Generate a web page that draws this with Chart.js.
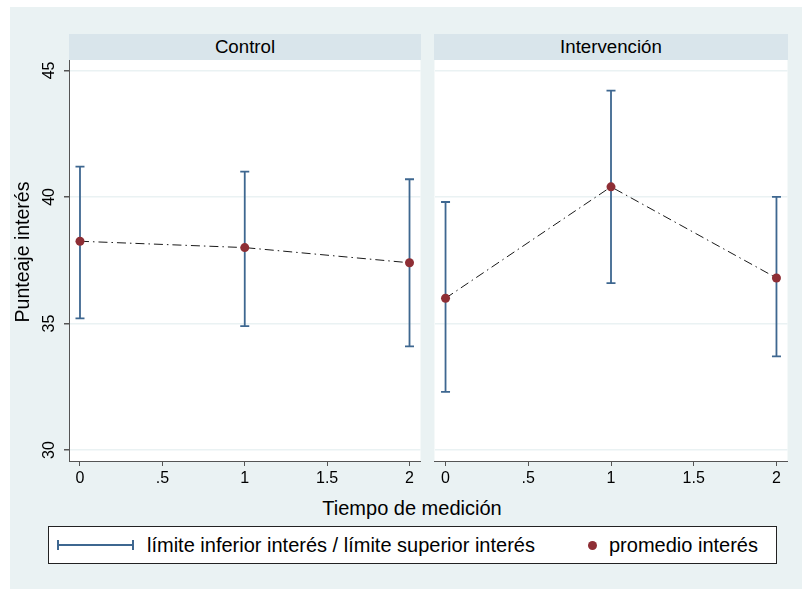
<!DOCTYPE html>
<html>
<head>
<meta charset="utf-8">
<script src="https://cdn.jsdelivr.net/npm/chart.js@4"></script>
<style>
body { margin: 0; background: #fff; font-family: "Liberation Sans", Arial, sans-serif; }
#fondo { position: absolute; left: 10px; top: 7px; width: 792px; height: 582px; background: #EAF2F3; }
.tira { position: absolute; top: 34px; height: 26px; background: #D9E5EB; text-align: center; font-size: 18.7px; line-height: 26px; color: #000; }
canvas { position: absolute; }
#tituloX { position: absolute; left: 262px; width: 300px; top: 496px; text-align: center; font-size: 20px; line-height: 24px; }
#tituloY { position: absolute; left: -128px; top: 240px; width: 300px; text-align: center; font-size: 19.5px; line-height: 24px; transform: rotate(-90deg); }
#leyenda { position: absolute; left: 48px; top: 526px; width: 727px; height: 36px; background: #fff; border: 1px solid #222; }
#leyenda span { position: absolute; font-size: 20px; line-height: 24px; top: 6px; }
.barra { position: absolute; left: 8px; top: 17px; width: 77px; height: 2px; background: #3E6790; }
.barra::before, .barra::after { content: ""; position: absolute; top: -4px; width: 2px; height: 10px; background: #3E6790; }
.barra::before { left: 0; }
.barra::after { right: 0; }
.punto { position: absolute; left: 539px; top: 14px; width: 9px; height: 9px; border-radius: 50%; background: #8E2E35; }
</style>
</head>
<body>
<div id="fondo"></div>
<div class="tira" style="left:69px;width:352px;">Control</div>
<div class="tira" style="left:434px;width:354px;">Intervención</div>
<canvas id="graficoControl" width="425" height="430" style="left:0;top:55px;"></canvas>
<canvas id="graficoInterv" width="362" height="430" style="left:430px;top:55px;"></canvas>
<div id="tituloY">Punteaje interés</div>
<div id="tituloX">Tiempo de medición</div>
<div id="leyenda">
  <div class="barra"></div>
  <span style="left:98px;">límite inferior interés / límite superior interés</span>
  <div class="punto"></div>
  <span style="left:560px;">promedio interés</span>
</div>
<script>
// datos
const tiempos = [0, 1, 2];
const controlMedia = [38.25, 38.0, 37.4];
const controlInf = [35.2, 34.9, 34.1];
const controlSup = [41.2, 41.0, 40.7];
const intervMedia = [36.0, 40.4, 36.8];
const intervInf = [32.3, 36.6, 33.7];
const intervSup = [39.8, 44.2, 40.0];
const ticksY = [30, 35, 40, 45];
const ticksX = [0, 0.5, 1, 1.5, 2];
const etiquetasX = ['0', '.5', '1', '1.5', '2'];

const colorBarra = '#3E6790';
const colorPunto = '#8E2E35';
const colorEje = '#555';

// fondo blanco del área del gráfico
const fondoBlanco = {
    id: 'fondoBlanco',
    beforeDraw(chart) {
        const a = chart.chartArea;
        chart.ctx.save();
        chart.ctx.fillStyle = '#fff';
        chart.ctx.fillRect(a.left, a.top, a.right - a.left, a.bottom - a.top);
        chart.ctx.restore();
    }
};

// barras de error (límite inferior / superior)
const barrasError = {
    id: 'barrasError',
    beforeDatasetsDraw(chart, args, opts) {
        const ctx = chart.ctx;
        const x = chart.scales.x, y = chart.scales.y;
        ctx.save();
        ctx.strokeStyle = colorBarra;
        ctx.lineWidth = 1.8;
        opts.inf.forEach((lo, i) => {
            const px = x.getPixelForValue(tiempos[i]);
            const y1 = y.getPixelForValue(lo);
            const y2 = y.getPixelForValue(opts.sup[i]);
            ctx.beginPath();
            ctx.moveTo(px, y1); ctx.lineTo(px, y2);
            ctx.moveTo(px - 4.5, y1); ctx.lineTo(px + 4.5, y1);
            ctx.moveTo(px - 4.5, y2); ctx.lineTo(px + 4.5, y2);
            ctx.stroke();
        });
        ctx.restore();
    }
};

function crearGrafico(id, medias, inf, sup, conEjeY) {
    return new Chart(document.getElementById(id), {
        type: 'line',
        data: {
            datasets: [{
                label: 'promedio interés',
                data: tiempos.map((t, i) => ({ x: t, y: medias[i] })),
                borderColor: '#000',
                borderWidth: 0.9,
                borderDash: [9, 4, 1.5, 4],
                pointRadius: 4.5,
                pointBackgroundColor: colorPunto,
                pointBorderWidth: 0,
                tension: 0
            }]
        },
        options: {
            responsive: false,
            animation: false,
            devicePixelRatio: 1,
            layout: { padding: { top: 5, right: 4, left: 0, bottom: 0 } },
            plugins: {
                legend: { display: false },
                tooltip: { enabled: false },
                barrasError: { inf: inf, sup: sup }
            },
            scales: {
                x: {
                    type: 'linear',
                    min: -0.0667,
                    max: 2.0667,
                    afterBuildTicks: s => { s.ticks = ticksX.map(v => ({ value: v })); },
                    afterFit: s => { s.height = 24; s.paddingLeft = 0; s.paddingRight = 0; },
                    grid: { drawOnChartArea: false, tickLength: 5, tickColor: colorEje },
                    border: { color: colorEje, width: 1 },
                    ticks: {
                        callback: (v, i) => etiquetasX[i],
                        font: { family: 'Liberation Sans', size: 16 },
                        color: '#000',
                        padding: 3,
                        maxRotation: 0
                    }
                },
                y: {
                    min: 29.57,
                    max: 45.41,
                    afterBuildTicks: s => { s.ticks = ticksY.map(v => ({ value: v })); },
                    afterFit: s => { s.width = conEjeY ? 69 : 4; s.paddingTop = 0; s.paddingBottom = 0; },
                    grid: { color: '#EAF2F3', lineWidth: 1.5, drawTicks: conEjeY, tickLength: 5, tickColor: colorEje },
                    border: { display: conEjeY, color: colorEje, width: 1 },
                    ticks: {
                        display: conEjeY,
                        font: { family: 'Liberation Sans', size: 16 },
                        color: '#000',
                        minRotation: 90,
                        maxRotation: 90,
                        crossAlign: 'center',
                        padding: 6
                    }
                }
            }
        },
        plugins: [fondoBlanco, barrasError]
    });
}

crearGrafico('graficoControl', controlMedia, controlInf, controlSup, true);
crearGrafico('graficoInterv', intervMedia, intervInf, intervSup, false);
</script>
</body>
</html>
